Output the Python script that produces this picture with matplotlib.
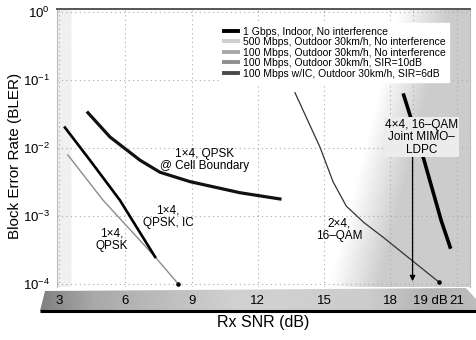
import numpy as np
import matplotlib
matplotlib.use("Agg")
import matplotlib.pyplot as plt
from matplotlib.patches import Polygon

plt.rcParams['font.family'] = ['Liberation Sans', 'DejaVu Sans']
plt.rcParams['mathtext.default'] = 'regular'

# Rx SNR (dB) / BLER
qpsk_snr = [3.4, 5.0, 7.35, 8.4]
qpsk_bler = [7.9e-3, 1.7e-3, 2.5e-4, 1.0e-4]

ic_snr = [3.27, 4.5, 5.76, 7.35]
ic_bler = [2.0e-2, 6.0e-3, 1.7e-3, 2.5e-4]

cell_snr = [4.31, 5.31, 6.67, 7.57, 8.93, 11.19, 13.0]
cell_bler = [3.3e-2, 1.45e-2, 6.6e-3, 4.4e-3, 3.2e-3, 2.2e-3, 1.78e-3]

qam24_snr = [13.68, 14.81, 15.4, 16.0, 16.8, 17.66, 19.15, 20.19]
qam24_bler = [6.5e-2, 1.03e-2, 3.2e-3, 1.4e-3, 8.0e-4, 4.9e-4, 2.0e-4, 1.07e-4]

qam44_snr = [18.6, 19.5, 20.3, 20.7]
qam44_bler = [6.0e-2, 7.0e-3, 8.5e-4, 3.5e-4]

legend_labels = [
    "1 Gbps, Indoor, No interference",
    "500 Mbps, Outdoor 30km/h, No interference",
    "100 Mbps, Outdoor 30km/h, No interference",
    "100 Mbps, Outdoor 30km/h, SIR=10dB",
    "100 Mbps w/IC, Outdoor 30km/h, SIR=6dB",
]
legend_colors = ['black', '#cfcfcf', '#a8a8a8', '#8e8e8e', '#4a4a4a']

xticks = [3, 6, 9, 12, 15, 18, 19, 21]
xtick_labels = ["3", "6", "9", "12", "15", "18", "19 dB", "21"]
yticks = [1e0, 1e-1, 1e-2, 1e-3, 1e-4]
ytick_labels = ["$10^{0}$", "$10^{-1}$", "$10^{-2}$", "$10^{-3}$", "$10^{-4}$"]

W, H = 476, 340
fig = plt.figure(figsize=(W / 100, H / 100), dpi=100)

# background layer for the shaded x-axis band
bg = fig.add_axes([0, 0, 1, 1], zorder=-1)
bg.set_xlim(0, W)
bg.set_ylim(H, 0)
bg.axis('off')
band = Polygon([(45, 291), (466, 288), (476, 299), (476, 311), (40, 311)],
               closed=True, facecolor='none', edgecolor='none')
bg.add_patch(band)
xs = np.linspace(0, 1, 300)
shade = np.interp(xs, [0, 0.12, 0.45, 0.75, 0.9, 1.0], [0.5, 0.66, 0.82, 0.80, 0.70, 0.74])
im = bg.imshow(np.tile(shade, (10, 1)), cmap='gray', vmin=0, vmax=1,
               extent=[40, 476, 311, 288], aspect='auto')
im.set_clip_path(band)
bg.plot([40, 476], [311, 311], color='black', lw=2.2, solid_capstyle='butt')

ax = fig.add_axes([57 / W, 1 - 287 / H, (470 - 57) / W, (287 - 9) / H])
ax.set_yscale('log')
ax.set_xlim(2.91, 21.6)
ax.set_ylim(10 ** -4.044, 10 ** 0.044)

# halftone-like shading of the scan (darker toward the right)
gx, gy = np.meshgrid(np.linspace(0, 1, 200), np.linspace(0, 1, 100))
t = gx - 0.66 - 0.17 * gy
g = 1 - 0.2 * np.clip(t / 0.12, 0, 1)
g = np.where(gx < 0.035, np.minimum(g, 0.94), g)
ax.imshow(g, cmap='gray', vmin=0, vmax=1, extent=[0, 1, 0, 1],
          transform=ax.transAxes, aspect='auto', origin='lower', zorder=0)

ax.grid(True, which='major', color='#aaaaaa', linestyle=(0, (1, 3)), lw=0.8)
ax.minorticks_off()

l1, = ax.plot(qam44_snr, qam44_bler, color='black', lw=2.6, zorder=3)
l2, = ax.plot(qam24_snr, qam24_bler, color='#333333', lw=0.9, zorder=3)
l3, = ax.plot(qpsk_snr, qpsk_bler, color='#8c8c8c', lw=1.0, zorder=3)
l4, = ax.plot(cell_snr, cell_bler, color='#111111', lw=2.3, zorder=3)
l5, = ax.plot(ic_snr, ic_bler, color='black', lw=1.9, zorder=3)
# end-point dots
ax.plot([qam24_snr[-1], qpsk_snr[-1]], [qam24_bler[-1], qpsk_bler[-1]],
        'o', color='black', ms=2.3, zorder=4, ls='none')

ax.annotate('', xy=(19, 1.0e-4), xytext=(19, 1.1e-2),
            arrowprops=dict(arrowstyle='-|>', lw=0.9, color='black', mutation_scale=8),
            zorder=4)

fs = 8.5
ax.text(9.6, 10 ** -2.18, "1\u00d74, QPSK\n@ Cell Boundary", ha='center', va='center',
        fontsize=fs, linespacing=1.05, zorder=5)
ax.text(7.93, 10 ** -3.01, "1\u00d74,\nQPSK, IC", ha='center', va='center',
        fontsize=fs, linespacing=1.05, zorder=5)
ax.text(5.4, 10 ** -3.35, "1\u00d74,\nQPSK", ha='center', va='center',
        fontsize=fs, linespacing=1.05, zorder=5)
ax.text(15.67, 10 ** -3.2, "2\u00d74,\n16\u2013QAM", ha='center', va='center',
        fontsize=fs, linespacing=1.05, zorder=5)
ax.text(19.4, 10 ** -1.84, "4\u00d74, 16\u2013QAM\nJoint MIMO\u2013\nLDPC", ha='center',
        va='center', fontsize=fs, linespacing=1.05, zorder=5,
        bbox=dict(boxstyle='square,pad=0.1', facecolor='#ececec', edgecolor='none'))

leg = ax.legend([l1, l2, l3, l4, l5], legend_labels, loc='upper left',
                bbox_to_anchor=(0.395, 0.95), fontsize=7.5, frameon=True,
                fancybox=False, framealpha=1, edgecolor='white', facecolor='white',
                handlelength=1.4, handletextpad=0.4, labelspacing=0.05,
                borderpad=0.35, borderaxespad=0)
leg.set_zorder(6)
for h, c in zip(leg.get_lines(), legend_colors):
    h.set_color(c)
    h.set_linewidth(2.8)

ax.set_xticks(xticks)
ax.set_xticklabels(xtick_labels)
ax.set_yticks(yticks)
ax.set_yticklabels(ytick_labels)
ax.tick_params(axis='x', length=0, pad=6, labelsize=9.5)
ax.tick_params(axis='y', length=0, pad=5, labelsize=9.5)
for lab in ax.get_xticklabels():
    if lab.get_text() == "19 dB":
        lab.set_horizontalalignment('left')
        lab.set_x(18.75)

for side in ['left', 'right']:
    ax.spines[side].set_color('#bbbbbb')
    ax.spines[side].set_linewidth(0.8)
ax.spines['top'].set_color('#555555')
ax.spines['top'].set_linewidth(1.4)
ax.spines['bottom'].set_visible(False)

ax.set_xlabel("Rx SNR (dB)", fontsize=11.5, va='center')
ax.xaxis.set_label_coords(0.5, -0.126)
ax.set_ylabel("Block Error Rate (BLER)", fontsize=11, va='center')
ax.yaxis.set_label_coords(-0.102, 0.47)

fig.savefig("out.png", dpi=100)
